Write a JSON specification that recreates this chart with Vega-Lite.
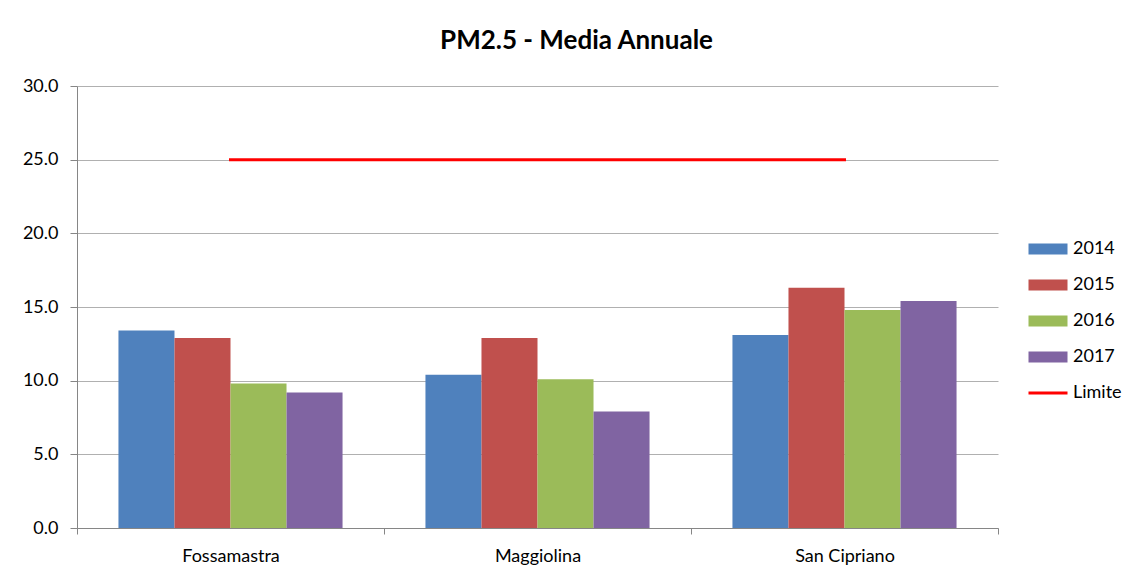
{
  "$schema": "https://vega.github.io/schema/vega-lite/v6.json",
  "width": 921,
  "height": 442,
  "autosize": {"type": "none"},
  "padding": {"left": 77, "top": 86, "right": 129, "bottom": 43},
  "background": "white",
  "config": {
    "font": "Lato",
    "view": {"stroke": null},
    "axis": {"labelFont": "Lato", "labelColor": "#000000", "labelFontSize": 18}
  },
  "title": {
    "text": "PM2.5 - Media Annuale",
    "font": "Lato",
    "fontSize": 26,
    "fontWeight": "bold",
    "color": "#000000",
    "anchor": "middle",
    "frame": "group",
    "dx": 39,
    "baseline": "alphabetic",
    "offset": 2
  },
  "datasets": {
    "medie": [
      {"stazione": "Fossamastra", "serie": "2014", "valore": 13.4},
      {"stazione": "Fossamastra", "serie": "2015", "valore": 12.9},
      {"stazione": "Fossamastra", "serie": "2016", "valore": 9.8},
      {"stazione": "Fossamastra", "serie": "2017", "valore": 9.2},
      {"stazione": "Maggiolina", "serie": "2014", "valore": 10.4},
      {"stazione": "Maggiolina", "serie": "2015", "valore": 12.9},
      {"stazione": "Maggiolina", "serie": "2016", "valore": 10.1},
      {"stazione": "Maggiolina", "serie": "2017", "valore": 7.9},
      {"stazione": "San Cipriano", "serie": "2014", "valore": 13.1},
      {"stazione": "San Cipriano", "serie": "2015", "valore": 16.3},
      {"stazione": "San Cipriano", "serie": "2016", "valore": 14.8},
      {"stazione": "San Cipriano", "serie": "2017", "valore": 15.4}
    ],
    "limite": [
      {"stazione": "Fossamastra", "serie": "Limite", "valore": 25},
      {"stazione": "Maggiolina", "serie": "Limite", "valore": 25},
      {"stazione": "San Cipriano", "serie": "Limite", "valore": 25}
    ]
  },
  "encoding": {
    "x": {
      "field": "stazione",
      "type": "nominal",
      "sort": ["Fossamastra", "Maggiolina", "San Cipriano"],
      "scale": {"paddingInner": 0, "paddingOuter": 0},
      "axis": {
        "title": null,
        "labelAngle": 0,
        "tickBand": "extent",
        "domainColor": "#868686",
        "tickColor": "#868686",
        "tickSize": 6,
        "labelPadding": 13,
        "grid": false
      }
    },
    "y": {
      "field": "valore",
      "type": "quantitative",
      "scale": {"domain": [0, 30], "nice": false, "zero": true},
      "axis": {
        "title": null,
        "values": [0, 5, 10, 15, 20, 25, 30],
        "format": ".1f",
        "grid": true,
        "gridColor": "#b0b0b0",
        "gridWidth": 1,
        "domainColor": "#868686",
        "tickColor": "#868686",
        "tickSize": 7,
        "labelPadding": 12
      }
    },
    "color": {
      "field": "serie",
      "type": "nominal",
      "scale": {
        "domain": ["2014", "2015", "2016", "2017", "Limite"],
        "range": ["#4f81bd", "#c0504d", "#9bbb59", "#8064a2", "#ff0000"]
      },
      "legend": {
        "title": null,
        "orient": "none",
        "legendX": 961,
        "legendY": 153,
        "padding": 0,
        "symbolSize": 400,
        "symbolStrokeWidth": 0,
        "labelOffset": 15,
        "labelFontSize": 18,
        "labelFont": "Lato",
        "labelColor": "#000000",
        "rowPadding": 17,
        "encode": {
          "symbols": {
            "update": {
              "shape": {"signal": "datum.value === 'Limite' ? 'M-1.95,-0.15H1.95V0.15H-1.95Z' : 'M-1.95,-0.55H1.95V0.55H-1.95Z'"},
              "fill": {"signal": "scale('color', datum.value)"},
              "strokeWidth": {"value": 0},
              "opacity": {"value": 1}
            }
          }
        }
      }
    }
  },
  "layer": [
    {
      "data": {"name": "medie"},
      "mark": {"type": "bar"},
      "encoding": {
        "xOffset": {
          "field": "serie",
          "type": "nominal",
          "scale": {"paddingInner": 0, "paddingOuter": 0.74}
        }
      }
    },
    {
      "data": {"name": "limite"},
      "mark": {"type": "line", "strokeWidth": 3, "strokeCap": "square"},
      "encoding": {}
    }
  ]
}
